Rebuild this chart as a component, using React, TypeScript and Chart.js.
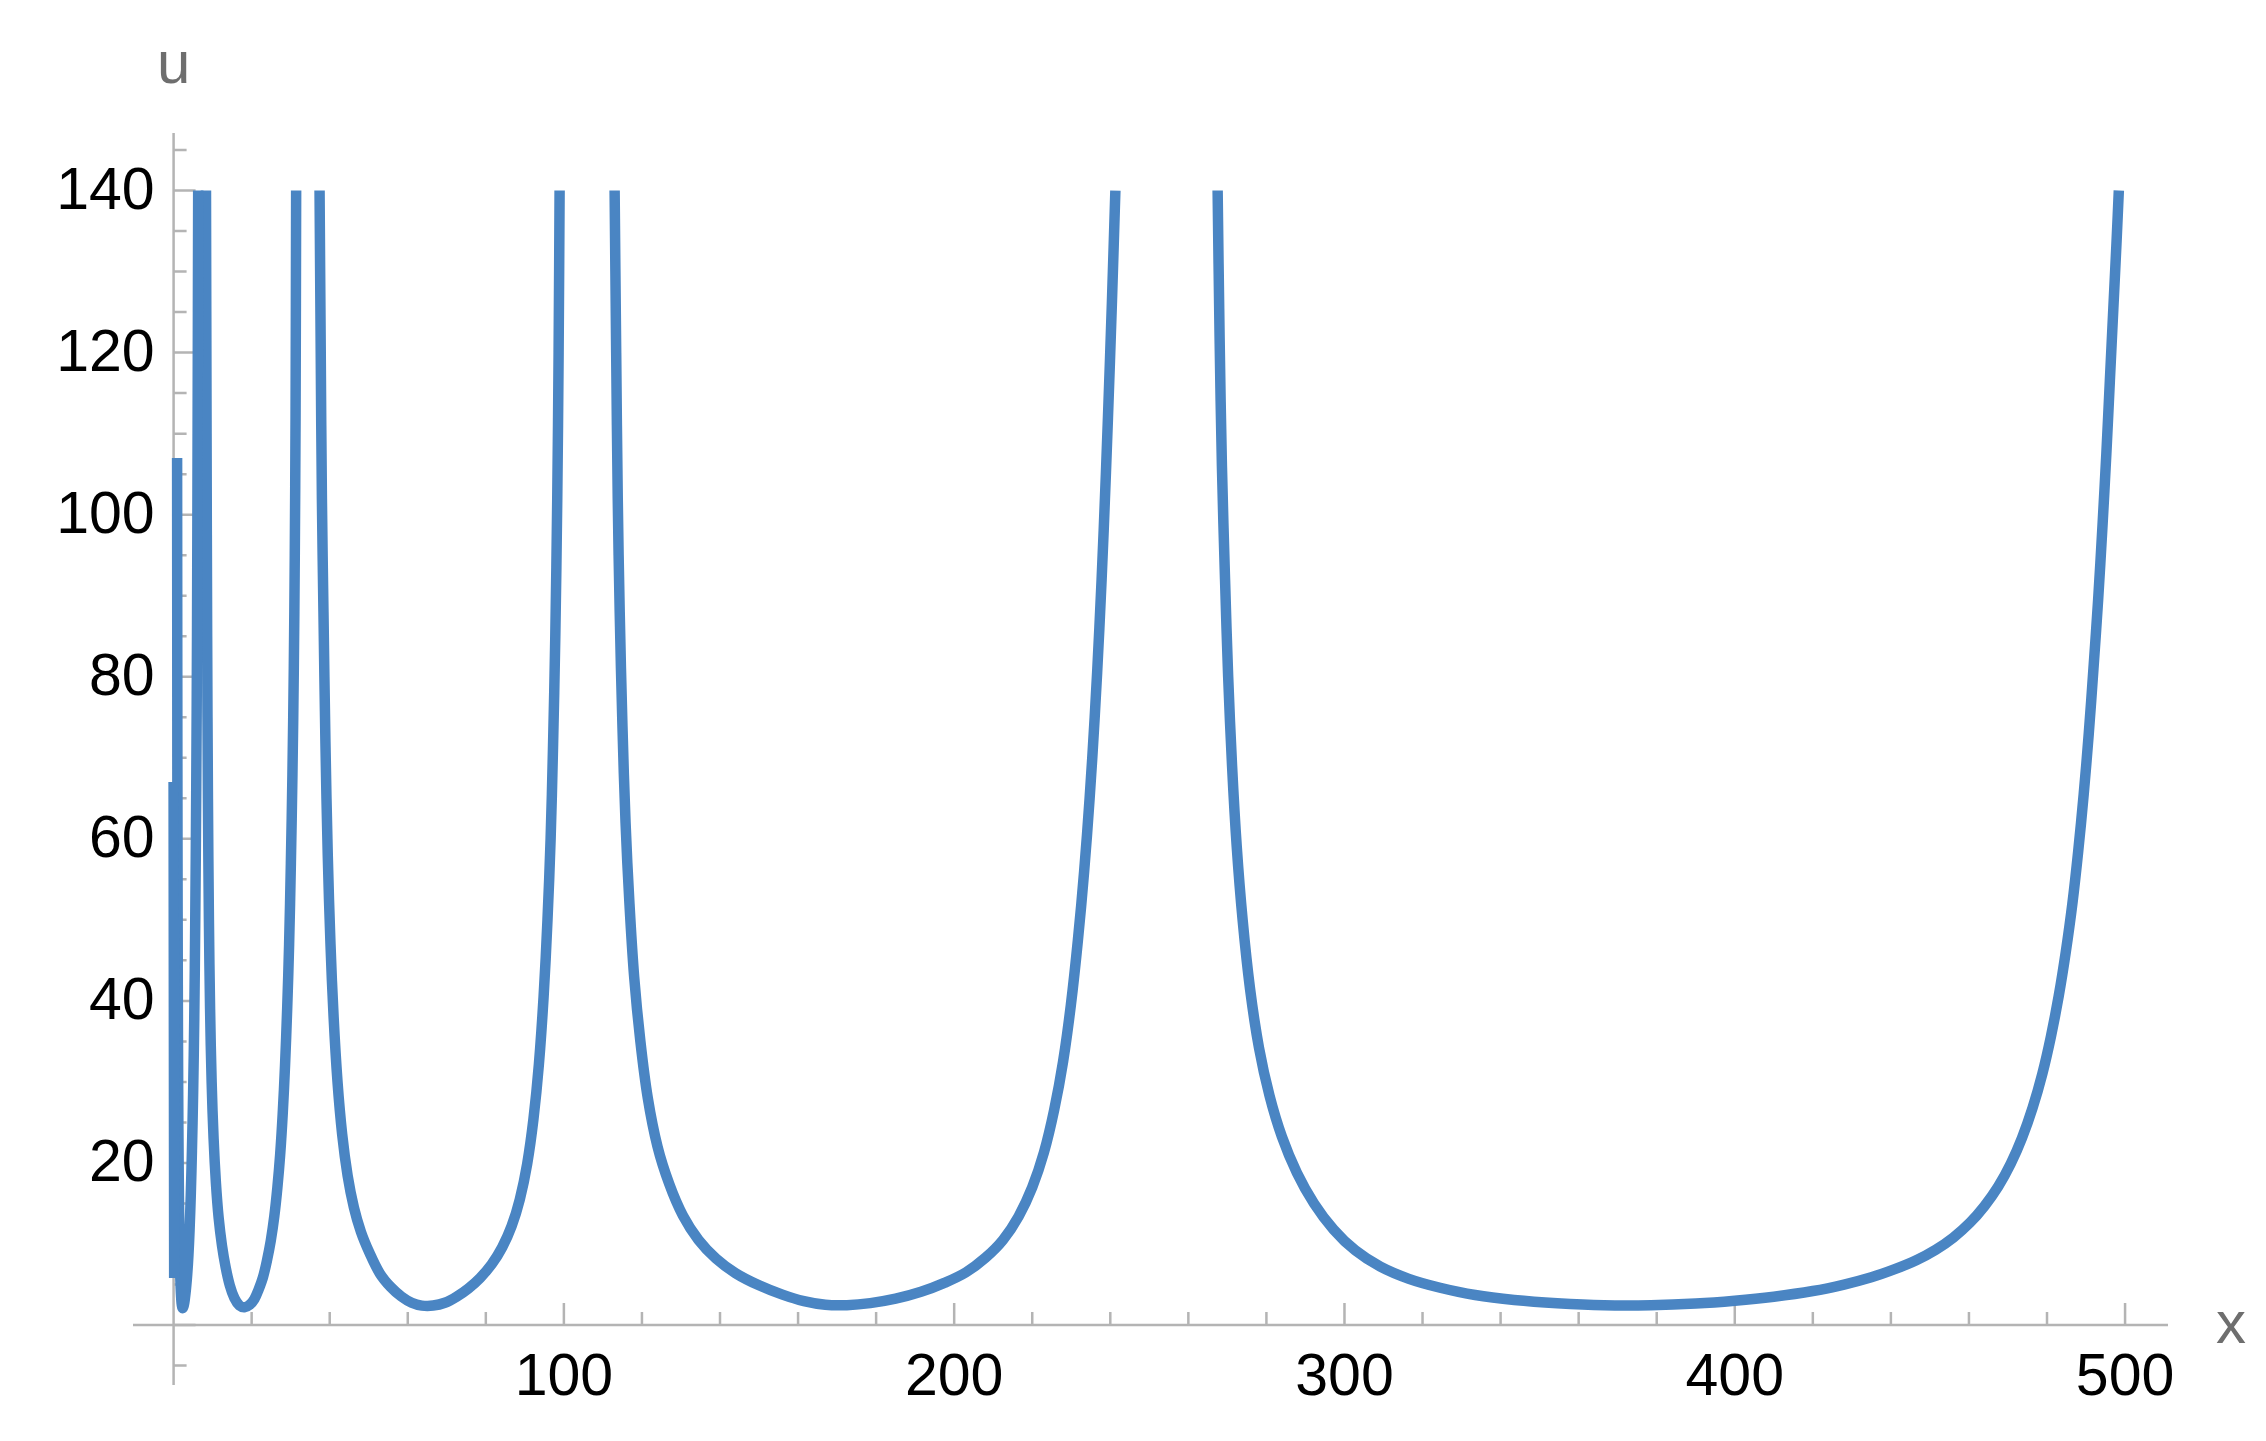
import React, { useEffect, useRef } from "react";
import { Chart, registerables } from "chart.js";

Chart.register(...registerables);

// ---- data: [x, u] pairs, one array per visible branch ----
const branch0: [number, number][] = [
  [0.0, 67],
  [0.15, 5.8],
];
const branch1: [number, number][] = [
  [0.9, 107], [0.95, 80], [1.0, 60], [1.08, 42], [1.18, 29], [1.3, 19.5], [1.45, 12.5],
  [1.62, 7.6], [1.82, 4.5], [2.05, 2.7], [2.3, 2.1], [2.6, 2.4], [2.9, 3.3], [3.2, 4.6],
  [3.5, 6.3], [3.8, 8.6], [4.1, 11.8], [4.4, 16], [4.7, 21.5], [5.0, 28.5], [5.3, 38],
  [5.55, 50], [5.8, 66], [6.0, 85], [6.15, 110], [6.3, 140],
];
const branch2: [number, number][] = [
  [8.3, 140], [8.45, 110], [8.6, 85], [8.8, 65], [9.05, 50], [9.35, 39], [9.75, 30],
  [10.25, 23], [10.85, 17.5], [11.55, 13.2], [12.4, 9.8], [13.35, 7.1], [14.4, 4.9],
  [15.6, 3.3], [16.9, 2.4], [18.2, 2.2], [19.5, 2.5], [20.7, 3.2], [21.8, 4.4],
  [22.9, 5.9], [23.9, 7.9], [24.9, 10.4], [25.8, 13.4], [26.6, 17], [27.3, 21],
  [27.95, 26], [28.55, 32], [29.1, 39], [29.6, 47], [30.05, 57], [30.45, 68],
  [30.8, 81], [31.05, 95], [31.25, 112], [31.4, 140],
];
const branch3: [number, number][] = [
  [37.4, 140], [37.7, 120], [38.0, 102], [38.4, 88], [38.9, 72], [39.5, 58], [40.2, 47],
  [41.0, 38], [42.0, 30], [43.2, 23.5], [44.6, 18.4], [46.2, 14.5], [48.0, 11.5],
  [50.2, 8.9], [52.8, 6.4], [55.6, 4.7], [58.4, 3.5], [61, 2.75], [63.6, 2.4],
  [66.5, 2.4], [69.5, 2.75], [72.5, 3.5], [75.5, 4.5], [78.5, 5.8], [81.5, 7.5],
  [84.2, 9.6], [86.6, 12.2], [88.7, 15.5], [90.6, 19.9], [92.2, 25.4], [93.6, 32.2],
  [94.8, 40.5], [95.8, 50], [96.6, 60], [97.2, 71], [97.8, 85], [98.3, 102],
  [98.65, 120], [98.9, 140],
];
const branch4: [number, number][] = [
  [113, 140], [113.4, 120], [113.8, 102], [114.3, 88], [115, 74], [115.8, 62],
  [116.8, 52], [118, 43], [119.6, 35], [121.5, 28], [124, 22], [127, 17.4],
  [130.5, 13.5], [134.5, 10.5], [139, 8.2], [144, 6.4], [150, 4.9], [156, 3.75],
  [161.5, 2.95], [167, 2.5], [172.5, 2.45], [178.5, 2.7], [185, 3.25], [191.5, 4.1],
  [197.5, 5.2], [203, 6.5], [208, 8.3], [212.5, 10.5], [216.5, 13.4], [220, 17],
  [223, 21.3], [225.6, 26.5], [227.9, 32.5], [229.9, 39.5], [231.7, 47.5], [233.3, 56],
  [234.7, 65], [236, 75], [237.2, 86], [238.3, 98], [239.4, 112], [240.4, 126],
  [241.3, 140],
];
const branch5: [number, number][] = [
  [267.5, 140], [268.0, 122], [268.6, 106], [269.4, 92], [270.2, 80], [271.2, 69],
  [272.4, 59], [273.9, 50], [275.8, 41.5], [278.1, 34.2], [280.8, 28.3], [284.0, 23.2],
  [287.8, 18.8], [292.2, 15.0], [297.2, 11.8], [302.8, 9.2], [309.2, 7.2], [316.5, 5.7],
  [324.5, 4.6], [333.5, 3.7], [343.5, 3.1], [354.5, 2.7], [366.5, 2.45], [378.5, 2.45],
  [390, 2.65], [400, 3.0], [410, 3.5], [420, 4.2], [428, 5.0], [435, 5.9], [441, 6.9],
  [446.5, 8.0], [451.5, 9.3], [456, 10.8], [460.2, 12.6], [464, 14.7], [467.5, 17.1],
  [470.7, 19.9], [473.6, 23.1], [476.3, 26.8], [478.8, 31], [481, 35.6], [483, 40.6],
  [484.8, 46], [486.5, 52], [488, 58.5], [489.4, 65.5], [490.7, 73], [491.9, 81],
  [493.1, 89.5], [494.2, 98.5], [495.2, 107.5], [496.1, 116.5], [497, 125.5],
  [497.8, 133.5], [498.4, 140],
];
const branches = [branch0, branch1, branch2, branch3, branch4, branch5];

// ---- axes ----
const xRange = [-10.4, 511];
const yRange = [-7.4, 147.1];
const xMajorTicks = [100, 200, 300, 400, 500];
const xMinorTicks = [20, 40, 60, 80, 120, 140, 160, 180, 220, 240, 260, 280, 320, 340, 360, 380, 420, 440, 460, 480];
const xTickLabels = ["100", "200", "300", "400", "500"];
const yMajorTicks = [0, 20, 40, 60, 80, 100, 120, 140];
const yTickLabels = ["", "20", "40", "60", "80", "100", "120", "140"];
const yMinorTicks = [-5, 5, 10, 15, 25, 30, 35, 45, 50, 55, 65, 70, 75, 85, 90, 95, 105, 110, 115, 125, 130, 135, 145];
const xAxisTitle = "x";
const yAxisTitle = "u";

const LINE_COLOR = "#4a85c3";
const AXIS_COLOR = "#b4b4b4";
const TITLE_COLOR = "#6e6e6e";
const FONT = '"Liberation Sans", Arial, sans-serif';

const axesPlugin = {
  id: "mmaAxes",
  beforeDatasetsDraw(chart: any) {
    const ctx = chart.ctx as CanvasRenderingContext2D;
    const xs = chart.scales.x;
    const ys = chart.scales.y;
    const area = chart.chartArea;
    const x0 = xs.getPixelForValue(0);
    const y0 = ys.getPixelForValue(0);
    ctx.save();
    ctx.strokeStyle = AXIS_COLOR;
    ctx.lineWidth = 2.5;
    ctx.lineCap = "butt";
    ctx.beginPath();
    ctx.moveTo(area.left, y0);
    ctx.lineTo(area.right, y0);
    ctx.moveTo(x0, area.top);
    ctx.lineTo(x0, area.bottom);
    ctx.stroke();
    ctx.beginPath();
    xMajorTicks.forEach((v) => {
      const p = xs.getPixelForValue(v);
      ctx.moveTo(p, y0);
      ctx.lineTo(p, y0 - 22);
    });
    xMinorTicks.forEach((v) => {
      const p = xs.getPixelForValue(v);
      ctx.moveTo(p, y0);
      ctx.lineTo(p, y0 - 13);
    });
    yMajorTicks.forEach((v) => {
      const p = ys.getPixelForValue(v);
      ctx.moveTo(x0, p);
      ctx.lineTo(x0 + 22, p);
    });
    yMinorTicks.forEach((v) => {
      const p = ys.getPixelForValue(v);
      ctx.moveTo(x0, p);
      ctx.lineTo(x0 + 13, p);
    });
    ctx.stroke();

    ctx.fillStyle = "#000000";
    ctx.font = `59px ${FONT}`;
    ctx.textBaseline = "alphabetic";
    ctx.textAlign = "center";
    xMajorTicks.forEach((v, i) => {
      ctx.fillText(xTickLabels[i], xs.getPixelForValue(v), y0 + 70);
    });
    ctx.textAlign = "right";
    yMajorTicks.forEach((v, i) => {
      if (!yTickLabels[i]) return;
      ctx.fillText(yTickLabels[i], x0 - 19, ys.getPixelForValue(v) + 18);
    });

    ctx.fillStyle = TITLE_COLOR;
    ctx.font = `60px ${FONT}`;
    ctx.textAlign = "center";
    ctx.fillText(yAxisTitle, x0, area.top - 50);
    ctx.fillText(xAxisTitle, area.right + 63, y0 + 18);
    ctx.restore();
  },
};

export default function App() {
  const ref = useRef<HTMLCanvasElement | null>(null);
  useEffect(() => {
    if (!ref.current) return;
    const chart = new Chart(ref.current, {
      type: "line",
      data: {
        datasets: branches.map((b, i) => ({
          label: "u" + i,
          data: b.map(([x, y]) => ({ x, y })),
          borderColor: LINE_COLOR,
          backgroundColor: LINE_COLOR,
          borderWidth: 10.5,
          borderCapStyle: "butt" as const,
          borderJoinStyle: "round" as const,
          pointRadius: 0,
          pointHoverRadius: 0,
          fill: false,
          tension: 0.35,
        })),
      },
      options: {
        animation: false,
        responsive: false,
        devicePixelRatio: 1,
        layout: { padding: { left: 133, right: 98, top: 133, bottom: 56 } },
        plugins: { legend: { display: false }, tooltip: { enabled: false } },
        events: [],
        scales: {
          x: { type: "linear", min: xRange[0], max: xRange[1], display: false },
          y: { type: "linear", min: yRange[0], max: yRange[1], display: false },
        },
      },
      plugins: [axesPlugin],
    });
    return () => chart.destroy();
  }, []);
  return (
    <div style={{ position: "fixed", left: 0, top: 0, width: 2266, height: 1441, background: "#ffffff" }}>
      <canvas ref={ref} width={2266} height={1441} style={{ width: 2266, height: 1441, display: "block" }} />
    </div>
  );
}
